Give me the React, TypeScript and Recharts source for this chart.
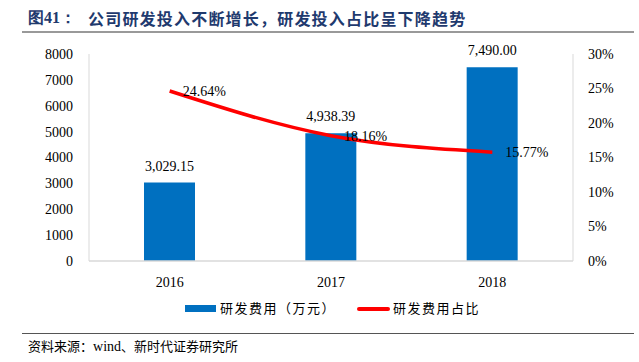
import React from 'react';
import { ComposedChart, Bar, Line, XAxis, YAxis, LabelList } from 'recharts';

const years = ['2016', '2017', '2018'];
const rdExpense = [3029.15, 4938.39, 7490.0];
const rdRatio = [0.2464, 0.1816, 0.1577];
const leftTicks = [0, 1000, 2000, 3000, 4000, 5000, 6000, 7000, 8000];
const rightTicks = [0, 0.05, 0.1, 0.15, 0.2, 0.25, 0.3];
const leftMinorTicks = Array.from({ length: 41 }, (_, i) => i * 200);
const rightMinorTicks = Array.from({ length: 31 }, (_, i) => i / 100);

const data = years.map((y, i) => ({ year: y, expense: rdExpense[i], ratio: rdRatio[i] }));

const SERIF = '"Liberation Serif", "Times New Roman", serif';
const CJK = '"Noto Sans CJK SC", sans-serif';

const fmtNum = (v: number) =>
  v.toLocaleString('en-US', { minimumFractionDigits: 2, maximumFractionDigits: 2 });
const fmtPct = (v: number) => (v * 100).toFixed(2) + '%';

const BarLabel = (props: any) => {
  const { x, y, width, value } = props;
  return (
    <text x={x + width / 2} y={y - 12} textAnchor="middle" fontFamily={SERIF} fontSize={14} fill="#000">
      {fmtNum(value)}
    </text>
  );
};

const LineLabel = (props: any) => {
  const { x, y, value } = props;
  return (
    <text x={x + 13} y={y + 5} textAnchor="start" fontFamily={SERIF} fontSize={14} fill="#000">
      {fmtPct(value)}
    </text>
  );
};

const EmptyTick = () => <g />;

export default function App() {
  return (
    <div style={{ position: 'fixed', left: 0, top: 0, width: 639, height: 362, background: '#fff' }}>
      <div
        style={{
          position: 'absolute',
          left: 28,
          top: 8,
          fontFamily: SERIF,
          fontWeight: 700,
          fontSize: 16,
          color: '#1F3A6E',
          whiteSpace: 'nowrap',
          lineHeight: '20px',
        }}
      >
        图41：
      </div>
      <div
        style={{
          position: 'absolute',
          left: 88,
          top: 8,
          fontFamily: CJK,
          fontWeight: 700,
          fontSize: 16,
          letterSpacing: 1.2,
          color: '#1F3A6E',
          whiteSpace: 'nowrap',
          lineHeight: '20px',
        }}
      >
        公司研发投入不断增长，研发投入占比呈下降趋势
      </div>
      <div style={{ position: 'absolute', left: 22, top: 31, width: 612, height: 2, background: '#999' }} />
      <ComposedChart
        width={639}
        height={362}
        data={data}
        margin={{ top: 54, right: 0, bottom: 71, left: 0 }}
        barCategoryGap="34%"
      >
        <XAxis
          dataKey="year"
          height={30}
          axisLine={{ stroke: '#d9d9d9', strokeWidth: 1.5 }}
          tickLine={false}
          tick={{ fontFamily: SERIF, fontSize: 14, fill: '#000' }}
          tickMargin={10}
        />
        <YAxis
          yAxisId="left"
          width={89}
          domain={[0, 8000]}
          ticks={leftTicks}
          interval={0}
          axisLine={{ stroke: '#d9d9d9' }}
          tickLine={false}
          tickMargin={10}
          tick={{ fontFamily: SERIF, fontSize: 14, fill: '#000' }}
        />
        <YAxis
          yAxisId="leftMinor"
          mirror
          width={0}
          domain={[0, 8000]}
          ticks={leftMinorTicks}
          interval={0}
          axisLine={false}
          tickLine={{ stroke: '#e6e6e6' }}
          tickSize={3}
          tick={<EmptyTick />}
        />
        <YAxis
          yAxisId="right"
          orientation="right"
          width={66}
          domain={[0, 0.3]}
          ticks={rightTicks}
          interval={0}
          axisLine={{ stroke: '#d9d9d9' }}
          tickLine={false}
          tickMargin={9}
          tickFormatter={(v: number) => Math.round(v * 100) + '%'}
          tick={{ fontFamily: SERIF, fontSize: 14, fill: '#000' }}
        />
        <YAxis
          yAxisId="rightMinor"
          orientation="right"
          mirror
          width={0}
          domain={[0, 0.3]}
          ticks={rightMinorTicks}
          interval={0}
          axisLine={false}
          tickLine={{ stroke: '#e6e6e6' }}
          tickSize={3}
          tick={<EmptyTick />}
        />
        <Bar yAxisId="left" dataKey="expense" fill="#0070C0" barSize={51} isAnimationActive={false}>
          <LabelList dataKey="expense" content={<BarLabel />} />
        </Bar>
        <Line
          yAxisId="right"
          dataKey="ratio"
          type="monotone"
          stroke="#FF0000"
          strokeWidth={3.5}
          dot={false}
          activeDot={false}
          isAnimationActive={false}
        >
          <LabelList dataKey="ratio" content={<LineLabel />} />
        </Line>
      </ComposedChart>
      <div style={{ position: 'absolute', left: 185, top: 305, width: 31, height: 7, background: '#0070C0' }} />
      <div
        style={{ position: 'absolute', left: 220, top: 299, fontFamily: CJK, fontSize: 13, lineHeight: '18px', color: '#000', letterSpacing: 1.5 }}
      >
        研发费用（万元）
      </div>
      <div style={{ position: 'absolute', left: 357, top: 307, width: 33, height: 4, background: '#FF0000', borderRadius: 2 }} />
      <div
        style={{ position: 'absolute', left: 393, top: 299, fontFamily: CJK, fontSize: 13, lineHeight: '18px', color: '#000', letterSpacing: 1.5 }}
      >
        研发费用占比
      </div>
      <div style={{ position: 'absolute', left: 22, top: 333, width: 612, height: 1, background: '#555' }} />
      <div
        style={{ position: 'absolute', left: 28, top: 337, fontFamily: CJK, fontSize: 13, lineHeight: '18px', color: '#000' }}
      >
        资料来源：<span style={{ fontFamily: SERIF, fontSize: 14 }}>wind</span>、新时代证券研究所
      </div>
    </div>
  );
}
